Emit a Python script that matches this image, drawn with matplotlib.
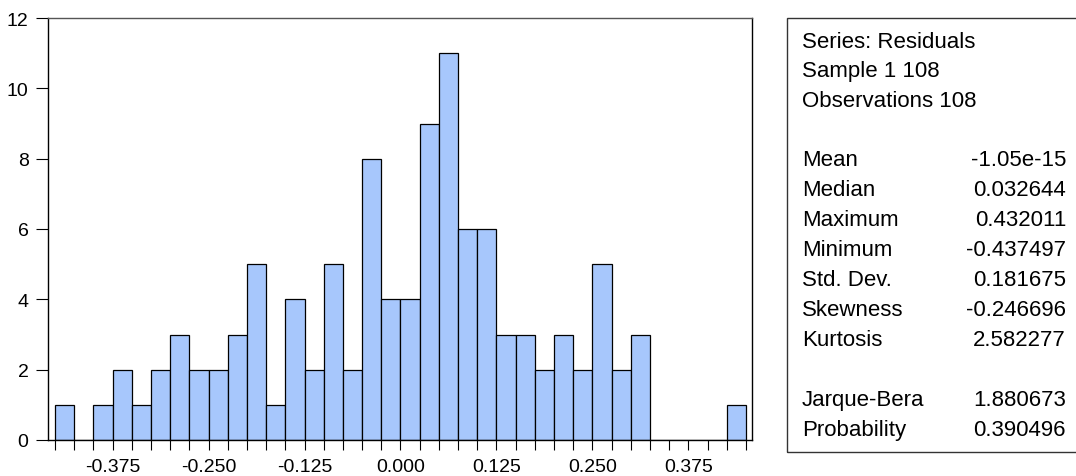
import numpy as np
import matplotlib
matplotlib.use('Agg')
import matplotlib.pyplot as plt
from matplotlib.patches import Rectangle

plt.rcParams['font.family'] = ['Liberation Sans', 'DejaVu Sans']

# histogram of residuals: bin edges every 0.025 from -0.45 to 0.45
bin_start = -0.45
bin_width = 0.025
counts = [1, 0, 1, 2, 1, 2, 3, 2, 2, 3, 5, 1, 4, 2, 5, 2, 8, 4,
          4, 9, 11, 6, 6, 3, 3, 2, 3, 2, 5, 2, 3, 0, 0, 0, 0, 1]
label_ticks = [-0.375, -0.250, -0.125, 0.000, 0.125, 0.250, 0.375]

stat_header = ['Series: Residuals', 'Sample 1 108', 'Observations 108']
stat_names = ['Mean', 'Median', 'Maximum', 'Minimum', 'Std. Dev.',
              'Skewness', 'Kurtosis', '', 'Jarque-Bera', 'Probability']
stat_values = ['-1.05e-15', '0.032644', '0.432011', '-0.437497', '0.181675',
               '-0.246696', '2.582277', '', '1.880673', '0.390496']

W, H = 1076, 477
fig = plt.figure(figsize=(W / 100, H / 100), dpi=100)
ax = fig.add_axes([48 / W, 1 - 441 / H, (752 - 48) / W, (441 - 19) / H])

edges = bin_start + bin_width * np.arange(len(counts) + 1)
lefts = edges[:-1]
ax.bar(lefts, counts, width=bin_width, align='edge', color='#a7c7fc',
       edgecolor='black', linewidth=0.9)

ax.set_xlim(-0.4591, 0.4578)
ax.set_ylim(0, 12)
ax.set_yticks([0, 2, 4, 6, 8, 10, 12])

xlabels = []
for e in edges:
    hit = [t for t in label_ticks if abs(t - e) < 1e-9]
    xlabels.append(f'{hit[0]:.3f}' if hit else '')
ax.set_xticks(edges, labels=xlabels)

ax.tick_params(axis='x', direction='out', length=7, width=0.8, pad=6,
               labelsize=14)
ax.tick_params(axis='y', direction='out', length=9, width=0.8, pad=5,
               labelsize=14)
for s in ax.spines.values():
    s.set_linewidth(1.0)
ax.spines['top'].set_color('#555555')

# statistics box
fig.patches.append(Rectangle((787 / W, 1 - 453 / H), (W + 5 - 787) / W,
                             (453 - 19) / H, transform=fig.transFigure,
                             fill=False, edgecolor='#333333', linewidth=1.0))

fs = 16
y = 42
for line in stat_header:
    fig.text(802 / W, 1 - y / H, line, fontsize=fs, va='center', ha='left')
    y += 30
y = 161
for name, val in zip(stat_names, stat_values):
    if name:
        fig.text(802 / W, 1 - y / H, name, fontsize=fs, va='center', ha='left')
        fig.text(1066 / W, 1 - y / H, val, fontsize=fs, va='center', ha='right')
    y += 30

fig.savefig('out.png', dpi=100)
